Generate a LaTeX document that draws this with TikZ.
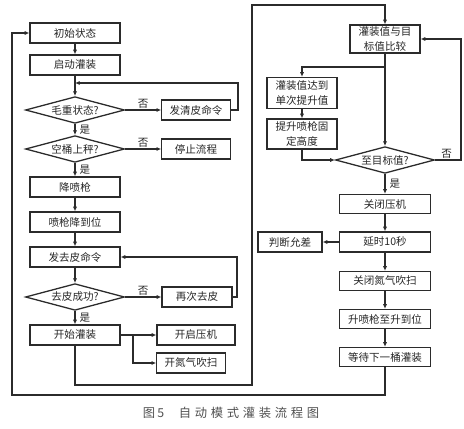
\documentclass[tikz,border=0pt]{standalone}
\usepackage{fontspec}
\usetikzlibrary{shapes.geometric,arrows.meta}
\newfontfamily\cjk{Noto Sans CJK SC}
\newfontfamily\capfont[LetterSpace=30]{Noto Sans CJK SC}
\definecolor{boxline}{HTML}{2B2B2B}
\definecolor{boxtext}{HTML}{262626}
\definecolor{captext}{HTML}{505050}
\tikzset{
  stepbox/.style={draw=boxline, line width=1.1pt, minimum width=2.7cm, minimum height=0.6cm,
                  inner sep=0pt, text=boxtext, font=\cjk\fontsize{9}{12.5}\selectfont, align=center},
  sidebox/.style={stepbox, minimum width=2.05cm},
  tallbox/.style={stepbox, minimum width=2.1cm, minimum height=0.9cm},
  decide/.style={diamond, draw=boxline, line width=1.1pt, aspect=4, minimum width=2.97cm,
                 minimum height=0.8cm, inner sep=0pt, text=boxtext, font=\cjk\fontsize{9}{11}\selectfont},
  flow/.style={draw=boxline, line width=0.9pt, -{Latex[length=4pt,width=3.6pt]}},
  tag/.style={text=boxtext, font=\cjk\fontsize{9}{11}\selectfont, inner sep=1pt},
  yes/.style={tag, right, xshift=2.5pt},
}

\begin{document}
\begin{tikzpicture}[x=0.03cm, y=-0.03cm]
    \useasboundingbox (0,0) rectangle (464,429);
    % left column
    \node[stepbox] (init) at (75,33) {初始状态};
    \node[stepbox] (start) at (75,65) {启动灌装};
    \node[decide] (gross) at (75,110) {毛重状态?};
    \node[sidebox] (clean) at (196,110) {发清皮命令};
    \node[decide] (empty) at (75,149) {空桶上秤?};
    \node[sidebox] (stop) at (196,149) {停止流程};
    \node[stepbox] (lower) at (75,187) {降喷枪};
    \node[stepbox] (inpos) at (75,222) {喷枪降到位};
    \node[stepbox] (tare) at (75,257) {发去皮命令};
    \node[decide] (tareok) at (75,297) {去皮成功?};
    \node[sidebox, minimum width=2.1cm] (retare) at (197,297) {再次去皮};
    \node[stepbox] (fill) at (75,335) {开始灌装};
    \node[sidebox, minimum width=2.34cm] (press) at (196,335) {开启压机};
    \node[sidebox] (purge) at (191,363) {开氮气吹扫};
    % right column
    \node[stepbox, minimum width=2.1cm, minimum height=0.84cm] (cmp) at (385,39) {灌装值与目\\标值比较};
    \node[tallbox, minimum height=0.93cm] (single) at (302,93) {灌装值达到\\单次提升值};
    \node[tallbox] (raise) at (302,134) {提升喷枪固\\定高度};
    \node[decide] (reach) at (385,160) {至目标值?};
    \node[stepbox, minimum width=2.73cm, minimum height=0.57cm] (pclose) at (385,204) {关闭压机};
    \node[stepbox, minimum width=2.73cm] (delay) at (385,242) {延时10秒};
    \node[sidebox, minimum width=1.92cm] (judge) at (290,242) {判断允差};
    \node[stepbox, minimum width=2.73cm, minimum height=0.57cm] (nclose) at (385,281) {关闭氮气吹扫};
    \node[stepbox, minimum width=2.73cm, minimum height=0.57cm] (up) at (385,319) {升喷枪至升到位};
    \node[stepbox, minimum width=2.73cm, minimum height=0.57cm] (wait) at (385,357) {等待下一桶灌装};
    \node[text=captext, font=\capfont\fontsize{10.5}{12}\selectfont] (cap) at (231,413) {图\,5\hspace{1.2em}自动模式灌装流程图};
    % turning points
    \coordinate (j1) at (75,83);
    \coordinate (r1) at (238,83);
    \coordinate (r2) at (237,257);
    \coordinate (b1) at (133,335);
    \coordinate (c1) at (252,385);
    \coordinate (c2) at (252,5);
    \coordinate (j2) at (385,67);
    \coordinate (r3) at (461,39);
    \coordinate (c3) at (385,395);
    \coordinate (c4) at (12,395);
    % connectors
    \draw[flow] (init) -- (start);
    \draw[flow] (start) -- (gross);
    \draw[flow] (gross) -- node[tag, above] {否} (clean);
    \draw[flow] (clean.east) -| (r1) -- (j1);
    \draw[flow] (gross) -- node[yes] {是} (empty);
    \draw[flow] (empty) -- node[tag, above] {否} (stop);
    \draw[flow] (empty) -- node[yes] {是} (lower);
    \draw[flow] (lower) -- (inpos);
    \draw[flow] (inpos) -- (tare);
    \draw[flow] (tare) -- (tareok);
    \draw[flow] (tareok) -- node[tag, above] {否} (retare);
    \draw[flow] (retare.east) -| (r2) -- (tare);
    \draw[flow] (tareok) -- node[yes] {是} (fill);
    \draw[flow] (fill) -- (press);
    \draw[flow] (b1) |- (purge);
    \draw[flow] (fill) |- (c1) -- (c2) -| (cmp);
    \draw[flow] (cmp) -- (reach);
    \draw[flow] (j2) -| (single);
    \draw[flow] (single) -- (raise);
    \draw[flow] (raise) |- (reach);
    \draw[flow] (reach) -| node[tag, pos=0.22, above] {否} (r3) -- (cmp);
    \draw[flow] (reach) -- node[yes] {是} (pclose);
    \draw[flow] (pclose) -- (delay);
    \draw[flow] (delay) -- (judge);
    \draw[flow] (delay) -- (nclose);
    \draw[flow] (nclose) -- (up);
    \draw[flow] (up) -- (wait);
    \draw[flow] (wait) -- (c3) -- (c4) |- (init);
  \end{tikzpicture}
\end{document}
